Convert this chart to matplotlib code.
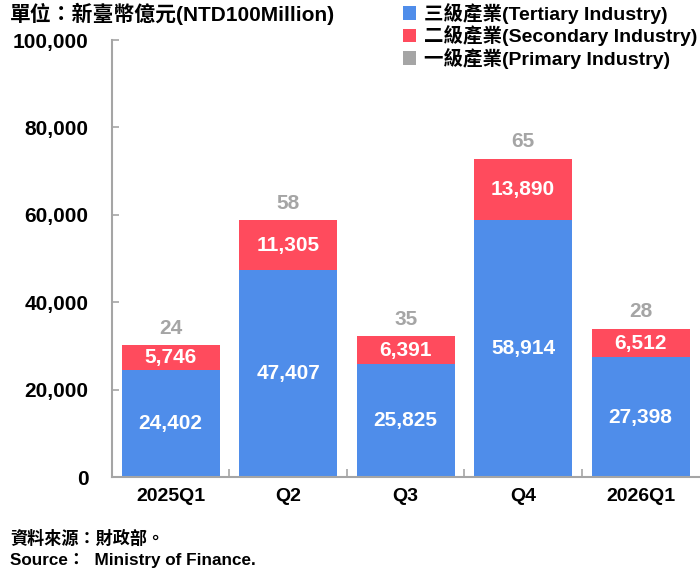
import numpy as np
import matplotlib.pyplot as plt
from matplotlib.ticker import FuncFormatter

plt.rcParams['font.family'] = ['Liberation Sans', 'Noto Sans CJK TC', 'DejaVu Sans']
plt.rcParams['font.weight'] = 'bold'

# data (NTD 100 million)
quarters = ['2025Q1', 'Q2', 'Q3', 'Q4', '2026Q1']
tertiary = [24402, 47407, 25825, 58914, 27398]
secondary = [5746, 11305, 6391, 13890, 6512]
primary = [24, 58, 35, 65, 28]

c_blue = '#4F8DEA'
c_red = '#FF4B5D'
c_gray = '#A5A5A5'

fig = plt.figure(figsize=(7, 5.81), dpi=100)
ax = fig.add_axes([0.16, 0.179, 0.839, 0.752])

x = np.arange(len(quarters))
w = 0.835
tert = np.array(tertiary)
sec = np.array(secondary)
pri = np.array(primary)

ax.bar(x, tert, w, color=c_blue, label='三級產業(Tertiary Industry)')
ax.bar(x, sec, w, bottom=tert, color=c_red, label='二級產業(Secondary Industry)')
ax.bar(x, pri, w, bottom=tert + sec, color=c_gray, label='一級產業(Primary Industry)')

for i in range(len(x)):
    ax.text(x[i], tert[i] / 2, f'{tert[i]:,}', ha='center', va='center',
            color='white', fontsize=15, fontweight='bold')
    ax.text(x[i], tert[i] + sec[i] / 2, f'{sec[i]:,}', ha='center', va='center',
            color='white', fontsize=15, fontweight='bold')
    ax.text(x[i], tert[i] + sec[i] + pri[i] + 1700, f'{pri[i]:,}', ha='center', va='bottom',
            color=c_gray, fontsize=15, fontweight='bold')

ax.set_xlim(-0.5, len(x) - 0.5)
ax.set_ylim(0, 100000)
ax.set_yticks(np.arange(0, 100001, 20000))
ax.yaxis.set_major_formatter(FuncFormatter(lambda v, p: f'{int(v):,}'))
ax.set_xticks(x)
ax.set_xticklabels(quarters)
ax.set_xticks(np.arange(0.5, len(x) - 0.5, 1), minor=True)

for s in ['top', 'right']:
    ax.spines[s].set_visible(False)
for s in ['left', 'bottom']:
    ax.spines[s].set_color(c_gray)
    ax.spines[s].set_linewidth(1.5)

ax.tick_params(axis='y', direction='in', length=5, color=c_gray, width=1.2,
               labelsize=15, pad=17)
ax.tick_params(axis='x', which='major', length=0, labelsize=14, pad=8)
ax.tick_params(axis='x', which='minor', direction='in', length=6, color=c_gray, width=1.2)

fig.text(0.014, 0.976, '單位：新臺幣億元(NTD100Million)', fontsize=15, fontweight='bold',
         ha='left', va='center')

leg = fig.legend(loc='upper right', bbox_to_anchor=(1.01, 1.012), frameon=False,
                 fontsize=14, handlelength=0.7, handleheight=0.7,
                 handletextpad=0.4, labelspacing=0.08, borderaxespad=0.1)

fig.text(0.014, 0.074, '資料來源：財政部。', fontsize=12.3, fontweight='bold', ha='left', va='center')
fig.text(0.014, 0.035, 'Source：  Ministry of Finance.', fontsize=12.3, fontweight='bold',
         ha='left', va='center')

fig.savefig('out.png', dpi=100)
